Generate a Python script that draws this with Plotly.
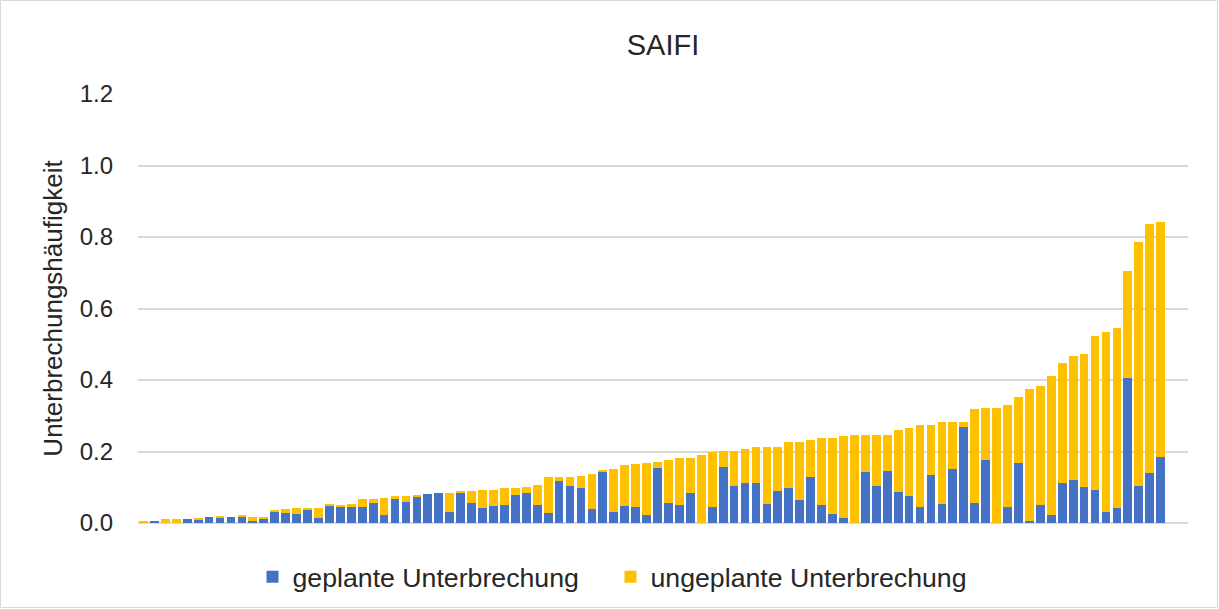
import plotly.graph_objects as go

# Netzbetreiber (sorted by total SAIFI)
betreiber = list(range(1, 95))

geplant = [
    0.001, 0.004, 0.0, 0.0, 0.011, 0.011, 0.018, 0.014, 0.018, 0.018,
    0.007, 0.011, 0.033, 0.029, 0.025, 0.039, 0.014, 0.049, 0.046, 0.046,
    0.046, 0.056, 0.021, 0.067, 0.060, 0.074, 0.081, 0.085, 0.032, 0.085,
    0.056, 0.043, 0.047, 0.050, 0.079, 0.083, 0.050, 0.029, 0.118, 0.104,
    0.097, 0.040, 0.144, 0.032, 0.047, 0.044, 0.021, 0.154, 0.057, 0.050,
    0.083, 0.0, 0.044, 0.158, 0.104, 0.111, 0.111, 0.054, 0.090, 0.097,
    0.064, 0.130, 0.050, 0.024, 0.014, 0.0, 0.144, 0.104, 0.146, 0.086,
    0.075, 0.046, 0.133, 0.054, 0.150, 0.269, 0.057, 0.175, 0.0, 0.046,
    0.169, 0.007, 0.050, 0.021, 0.111, 0.121, 0.101, 0.093, 0.032, 0.042,
    0.405, 0.104, 0.140, 0.186,
]

ungeplant = [
    0.003, 0.0, 0.011, 0.011, 0.0, 0.004, 0.0, 0.004, 0.0, 0.003,
    0.011, 0.007, 0.002, 0.010, 0.018, 0.003, 0.028, 0.004, 0.003, 0.007,
    0.021, 0.011, 0.050, 0.008, 0.015, 0.003, 0.0, 0.0, 0.053, 0.004,
    0.033, 0.050, 0.046, 0.047, 0.018, 0.018, 0.057, 0.100, 0.011, 0.025,
    0.035, 0.096, 0.003, 0.118, 0.114, 0.121, 0.147, 0.018, 0.118, 0.133,
    0.100, 0.190, 0.154, 0.043, 0.097, 0.097, 0.101, 0.158, 0.122, 0.129,
    0.162, 0.103, 0.187, 0.213, 0.229, 0.247, 0.103, 0.143, 0.101, 0.175,
    0.190, 0.229, 0.142, 0.229, 0.133, 0.014, 0.262, 0.147, 0.322, 0.283,
    0.184, 0.369, 0.333, 0.391, 0.337, 0.345, 0.372, 0.431, 0.502, 0.503,
    0.301, 0.681, 0.695, 0.656,
]

y_ticks = [0.0, 0.2, 0.4, 0.6, 0.8, 1.0, 1.2]
y_ticktext = ["0.0", "0.2", "0.4", "0.6", "0.8", "1.0", "1.2"]

BLUE = "#4472C4"
YELLOW = "#FFC000"
GRID = "#D9D9D9"
TEXT = "#262626"
FONT = "Liberation Sans, Arial, sans-serif"

fig = go.Figure()
fig.add_trace(go.Bar(x=betreiber, y=geplant, name="geplante Unterbrechung",
                     marker=dict(color=BLUE, line=dict(width=0))))
fig.add_trace(go.Bar(x=betreiber, y=ungeplant, name="ungeplante Unterbrechung",
                     marker=dict(color=YELLOW, line=dict(width=0))))

L, R, T, B = 138, 31, 94, 86
W, H = 1219, 609
pw, ph = W - L - R, H - T - B

def px2x(px):
    return (px - L) / pw

def py2y(py):
    return (H - B - py) / ph

fig.update_layout(
    width=W, height=H,
    barmode="stack", bargap=0.2,
    paper_bgcolor="white", plot_bgcolor="white",
    margin=dict(l=L, r=R, t=T, b=B, pad=0),
    font=dict(family=FONT, color=TEXT),
    title=dict(text="SAIFI", x=0.5, xanchor="center", xref="paper",
               y=1 - 45 / H, yanchor="middle", yref="container",
               font=dict(size=29, color=TEXT, family=FONT)),
    xaxis=dict(range=[0.5, 96.5], showticklabels=False, showgrid=False,
               zeroline=False, showline=False, ticks=""),
    yaxis=dict(range=[0, 1.2], tickvals=y_ticks, ticktext=y_ticktext,
               showgrid=True, gridcolor=GRID, gridwidth=1.5,
               zeroline=True, zerolinecolor=GRID, zerolinewidth=1.5,
               showline=False, ticks="", ticklabelstandoff=24,
               tickfont=dict(size=24, color=TEXT, family=FONT),
               title=dict(text="Unterbrechungshäufigkeit", standoff=9,
                          font=dict(size=26, color=TEXT, family=FONT))),
    legend=dict(orientation="h", xref="container", x=610.5 / W, xanchor="center",
                yref="container", y=(H - 577) / H, yanchor="middle",
                font=dict(size=26.7, color=TEXT, family=FONT),
                itemwidth=30, entrywidth=313, tracegroupgap=0,
                traceorder="normal", bgcolor="rgba(0,0,0,0)"),
    showlegend=True,
    shapes=[dict(type="rect", xref="paper", yref="paper",
                 x0=px2x(0.5), x1=px2x(W - 1.5), y0=py2y(H - 1.5), y1=py2y(0.5),
                 line=dict(color=GRID, width=1), fillcolor="rgba(0,0,0,0)",
                 layer="below")],
)

fig.write_html("out.html", config={"displayModeBar": False},
               post_script="document.body.style.margin='0';document.body.style.padding='0';")
